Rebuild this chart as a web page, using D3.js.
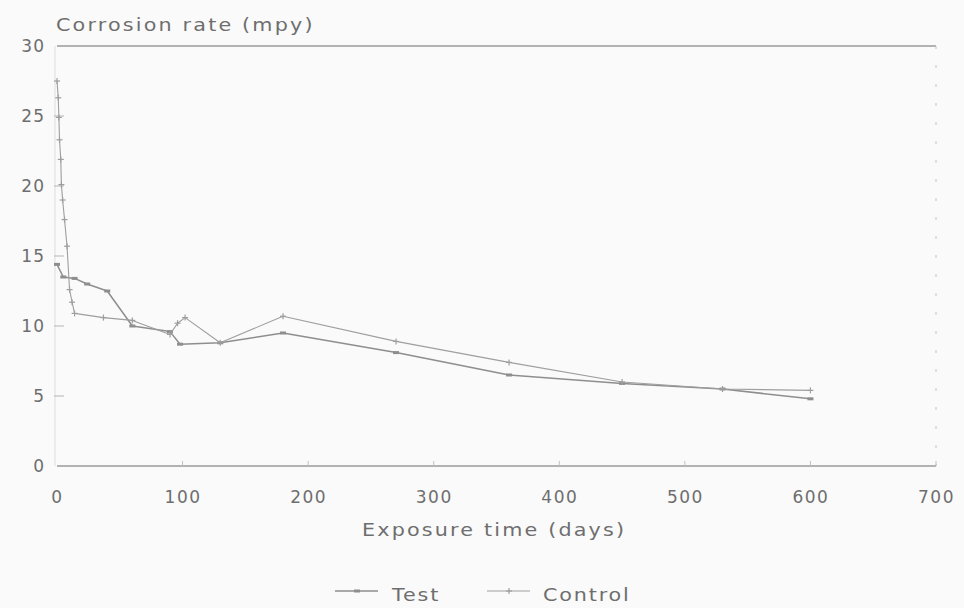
<!DOCTYPE html>
<html>
<head>
<meta charset="utf-8">
<script src="https://cdn.jsdelivr.net/npm/d3@7"></script>
<style>
  html, body { margin: 0; padding: 0; background: #fafafa; }
  svg { display: block; }
  text { font-family: "DejaVu Sans", sans-serif; fill: #6e6e6e; }
</style>
</head>
<body>
<svg id="chart" width="964" height="608"></svg>
<script>
// Corrosion rate (mpy) against exposure time (days)
const testDays    = [0, 5, 14, 24, 40, 60, 90, 98, 130, 180, 270, 360, 450, 530, 600];
const testRate    = [14.4, 13.5, 13.4, 13.0, 12.5, 10.0, 9.6, 8.7, 8.8, 9.5, 8.1, 6.5, 5.9, 5.5, 4.8];

const controlDays = [0, 1, 1.5, 2, 3, 3.5, 4.5, 6, 8, 10, 12, 14, 37, 60, 90, 96, 102, 130, 180, 270, 360, 450, 530, 600];
const controlRate = [27.5, 26.3, 24.9, 23.3, 21.9, 20.1, 19.0, 17.6, 15.7, 12.6, 11.7, 10.9, 10.6, 10.4, 9.4, 10.2, 10.6, 8.8, 10.7, 8.9, 7.4, 6.0, 5.5, 5.4];

const xTicks = [0, 100, 200, 300, 400, 500, 600, 700];
const yTicks = [0, 5, 10, 15, 20, 25, 30];

const seriesNames = ["Test", "Control"];

const svg = d3.select("#chart");

const x = d3.scaleLinear().domain([0, 700]).range([57, 936]);
const y = d3.scaleLinear().domain([0, 30]).range([466, 46]);

const series = [
  { name: seriesNames[0], pts: testDays.map((d, i) => [d, testRate[i]]), color: "#8e8e8e", width: 1.5, marker: "dash" },
  { name: seriesNames[1], pts: controlDays.map((d, i) => [d, controlRate[i]]), color: "#9e9e9e", width: 1.1, marker: "plus" }
];

// wide lettering: horizontally stretched text anchored at (tx, ty)
function wideText(sel, tx, ty, str, spacing) {
  return sel.append("text")
    .attr("transform", `translate(${tx},${ty}) scale(1.15,1)`)
    .style("font-size", "18px").style("letter-spacing", spacing + "px")
    .text(str);
}

// frame: top and bottom rules, faint left and dotted right edge
svg.append("line").attr("x1", x(0)).attr("x2", x(700)).attr("y1", y(30)).attr("y2", y(30))
  .attr("stroke", "#9a9a9a").attr("stroke-width", 1.4);
svg.append("line").attr("x1", x(0)).attr("x2", x(700)).attr("y1", y(0)).attr("y2", y(0))
  .attr("stroke", "#9a9a9a").attr("stroke-width", 1.4);
svg.append("line").attr("x1", x(0) - 2).attr("x2", x(0) - 2).attr("y1", y(30)).attr("y2", y(0))
  .attr("stroke", "#dddddd").attr("stroke-width", 1);
svg.append("line").attr("x1", x(700)).attr("x2", x(700)).attr("y1", y(30)).attr("y2", y(0))
  .attr("stroke", "#c4c4c4").attr("stroke-width", 1).attr("stroke-dasharray", "3,16");

// y axis
const yAxis = d3.axisLeft(y).tickValues(yTicks).tickSize(0).tickPadding(12);
const gy = svg.append("g").attr("transform", `translate(${x(0)},0)`).call(yAxis);
gy.select(".domain").remove();
gy.selectAll("text").style("font-size", "17px").style("letter-spacing", "1px")
  .attr("fill", "#6e6e6e").attr("font-family", "DejaVu Sans, sans-serif");
svg.selectAll(".ytick").data(yTicks.filter(v => v > 0 && v < 30)).enter().append("line")
  .attr("x1", x(0) - 3).attr("x2", x(0) + 7)
  .attr("y1", d => y(d)).attr("y2", d => y(d))
  .attr("stroke", "#b5b5b5").attr("stroke-width", 1);

// x axis
const xAxis = d3.axisBottom(x).tickValues(xTicks).tickSize(0).tickPadding(25);
const gx = svg.append("g").attr("transform", `translate(0,${y(0)})`).call(xAxis);
gx.select(".domain").remove();
gx.selectAll("text").style("font-size", "17px").style("letter-spacing", "1.5px")
  .attr("fill", "#6e6e6e").attr("font-family", "DejaVu Sans, sans-serif");
svg.selectAll(".xtick").data(xTicks.slice(1)).enter().append("line")
  .attr("x1", d => x(d)).attr("x2", d => x(d))
  .attr("y1", y(0) - 5).attr("y2", y(0))
  .attr("stroke", "#c0c0c0").attr("stroke-width", 1);

// titles
wideText(svg, 56, 31, "Corrosion rate (mpy)", 1.9);
wideText(svg, 362, 536, "Exposure time (days)", 1.9);

// series lines
const line = d3.line().x(d => x(d[0])).y(d => y(d[1]));

function drawMarker(g, kind, cx, cy, color) {
  if (kind === "plus") {
    g.append("line").attr("x1", cx - 3).attr("x2", cx + 3).attr("y1", cy).attr("y2", cy)
      .attr("stroke", color).attr("stroke-width", 1.2);
    g.append("line").attr("x1", cx).attr("x2", cx).attr("y1", cy - 3).attr("y2", cy + 3)
      .attr("stroke", color).attr("stroke-width", 1.2);
  } else {
    g.append("rect").attr("x", cx - 3).attr("y", cy - 1.5).attr("width", 6).attr("height", 3)
      .attr("fill", color);
  }
}

series.forEach(s => {
  const g = svg.append("g");
  g.append("path").datum(s.pts).attr("d", line)
    .attr("fill", "none").attr("stroke", s.color).attr("stroke-width", s.width)
    .attr("stroke-linejoin", "round");
  s.pts.forEach(p => drawMarker(g, s.marker, x(p[0]), y(p[1]), s.color));
});

// legend
const legend = [
  { s: series[0], x1: 335, tx: 392 },
  { s: series[1], x1: 487, tx: 543 }
];
legend.forEach(l => {
  const g = svg.append("g");
  g.append("line").attr("x1", l.x1).attr("x2", l.x1 + 43).attr("y1", 591).attr("y2", 591)
    .attr("stroke", l.s.color).attr("stroke-width", l.s.width);
  drawMarker(g, l.s.marker, l.x1 + 22, 591, l.s.color);
  wideText(g, l.tx, 601, l.s.name, 1.6);
});
</script>
</body>
</html>
